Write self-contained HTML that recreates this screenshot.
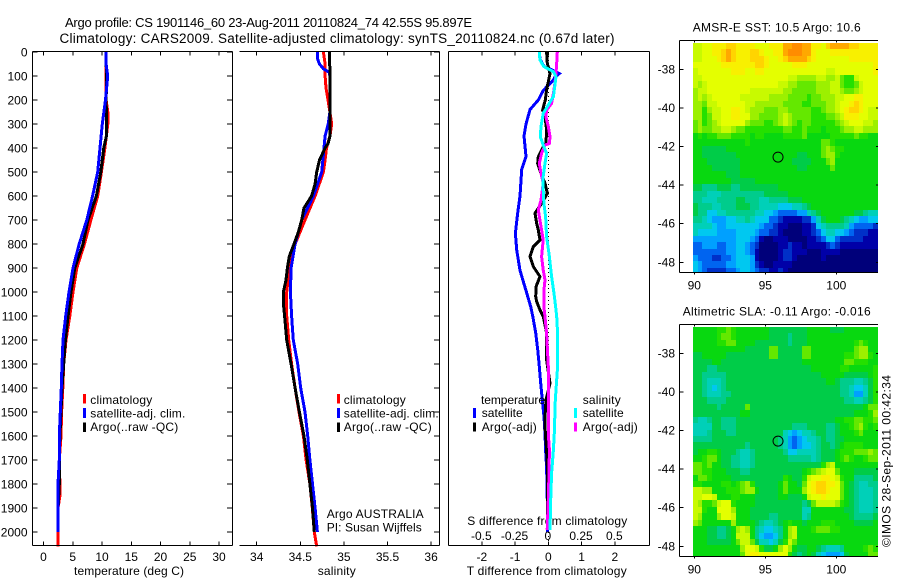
<!DOCTYPE html>
<html lang="en">
<head>
<meta charset="utf-8">
<title>Argo profile chart</title>
<style>
html,body{margin:0;padding:0;background:#fff;}
#chart{display:block;width:900px;height:580px;}
text{font-family:"Liberation Sans",sans-serif;font-size:12px;fill:#000;}
</style>
</head>
<body>
<svg id="chart" xmlns="http://www.w3.org/2000/svg" width="900" height="580" viewBox="0 0 900 580">
<defs>
<clipPath id="clip-map-sst"><rect x="679" y="41" width="199" height="232"/></clipPath>
<clipPath id="clip-map-sla"><rect x="679" y="325" width="199" height="232"/></clipPath>
</defs>
<text x="65" y="27" textLength="407" lengthAdjust="spacing" style="font-size:13px">Argo profile: CS 1901146_60 23-Aug-2011 20110824_74 42.55S 95.897E</text>
<text x="59.5" y="43" textLength="555" lengthAdjust="spacing" style="font-size:13.5px">Climatology: CARS2009. Satellite-adjusted climatology: synTS_20110824.nc (0.67d later)</text>
<text x="692.7" y="31.5" textLength="168" lengthAdjust="spacing">AMSR-E SST: 10.5 Argo: 10.6</text>
<text x="682.7" y="315.5" textLength="188" lengthAdjust="spacing">Altimetric SLA: -0.11 Argo: -0.016</text>
<text x="74" y="575" textLength="110" lengthAdjust="spacing">temperature (deg C)</text>
<text x="317.7" y="575" textLength="38" lengthAdjust="spacing">salinity</text>
<text x="466.7" y="575" textLength="160" lengthAdjust="spacing">T difference from climatology</text>
<text x="467.3" y="525" textLength="160" lengthAdjust="spacing">S difference from climatology</text>
<text x="326.7" y="518" textLength="97" lengthAdjust="spacing">Argo AUSTRALIA</text>
<text x="326.7" y="531.5" textLength="95" lengthAdjust="spacing">PI: Susan Wijffels</text>
<text transform="translate(890.5,547) rotate(-90)" x="0" y="0" textLength="172" lengthAdjust="spacing">©IMOS 28-Sep-2011 00:42:34</text>

<g>
<rect x="83" y="394" width="3" height="9.5" fill="#ff0000"/>
<text x="90.3" y="404" textLength="62" lengthAdjust="spacing">climatology</text>
<rect x="83" y="408" width="3" height="10" fill="#0000ff"/>
<text x="90.3" y="417.3" textLength="95" lengthAdjust="spacing">satellite-adj. clim.</text>
<rect x="83" y="422.5" width="3" height="9.5" fill="#000000"/>
<text x="90.3" y="431" textLength="88" lengthAdjust="spacing">Argo(..raw -QC)</text>
</g>
<g>
<rect x="337" y="394" width="3" height="9.5" fill="#ff0000"/>
<text x="343.7" y="404" textLength="62" lengthAdjust="spacing">climatology</text>
<rect x="337" y="408" width="3" height="10" fill="#0000ff"/>
<text x="343.7" y="417.3" textLength="95" lengthAdjust="spacing">satellite-adj. clim.</text>
<rect x="337" y="422.5" width="3" height="9.5" fill="#000000"/>
<text x="343.7" y="431" textLength="88" lengthAdjust="spacing">Argo(..raw -QC)</text>
</g>

<g id="marks"></g>
<g id="overlay-legend">
<text x="481" y="404" textLength="64" lengthAdjust="spacing">temperature</text>
<rect x="473" y="408" width="3" height="10" fill="#0000ff"/>
<text x="481.7" y="417" textLength="41" lengthAdjust="spacing">satellite</text>
<rect x="473" y="422.5" width="3" height="9" fill="#000000"/>
<text x="481.7" y="431" textLength="55" lengthAdjust="spacing">Argo(-adj)</text>
<text x="582.7" y="404" textLength="38" lengthAdjust="spacing">salinity</text>
<rect x="574" y="408" width="3" height="10" fill="#00ffff"/>
<text x="582.7" y="417" textLength="41" lengthAdjust="spacing">satellite</text>
<rect x="574" y="422.5" width="3" height="9" fill="#ff00ff"/>
<text x="582.7" y="431" textLength="55" lengthAdjust="spacing">Argo(-adj)</text>
</g>
</svg>

<script>
// ---- axis tick labels ----
const depthTicks = [0,100,200,300,400,500,600,700,800,900,1000,1100,1200,1300,1400,1500,1600,1700,1800,1900,2000];
const temperatureTicks = [0,5,10,15,20,25,30];
const salinityTicks = [34,34.5,35,35.5,36];
const tDifferenceTicks = [-2,-1,0,1,2];
const sDifferenceTicks = [-0.5,-0.25,0,0.25,0.5];
const longitudeTicks = [90,95,100];
const latitudeTicks = [-38,-40,-42,-44,-46,-48];

// ---- profile location ----
const profileLon = [95.897];
const profileLat = [-42.55];

// ---- temperature panel ----
const climTempDepth = [0,100,200,250,300,350,400,500,600,700,800,900,1000,1100,1200,1300,1400,1500,1600,1700,1800,1850,1900,2000,2060];
const climTemp = [10.7,10.7,10.7,11,11,10.75,10.5,9.9,9.26,8.1,7,5.7,5.05,4.5,3.85,3.45,3.3,3.1,3,2.7,2.8,2.8,2.48,2.48,2.48];
const argoTempDepth = [0,50,100,200,300,350,400,500,600,700,800,900,1000,1100,1200,1300,1400,1500,1600,1700,1800,1900,2000];
const argoTemp = [10.7,10.7,10.8,10.7,10.8,10.75,10.3,9.8,9.05,7.6,6.75,5.35,4.7,4.2,3.75,3.45,3.16,3,2.8,2.7,2.7,2.5,2.48];
const satTempDepth = [0,50,100,200,300,400,500,600,700,800,900,1000,1100,1200,1300,1400,1500,1600,1700,1800,1900,2000];
const satTemp = [10.7,10.7,10.97,10.6,10.05,9.66,9.26,8.4,7.4,6.1,5.05,4.36,3.8,3.33,3.16,3.05,2.87,2.7,2.7,2.48,2.48,2.48];

// ---- salinity panel ----
const climSalDepth = [0,50,100,150,200,250,300,350,400,450,500,600,700,800,900,1000,1100,1200,1300,1400,1500,1600,1700,1800,1900,2000,2060];
const climSal = [34.765,34.784,34.784,34.795,34.818,34.84,34.86,34.84,34.8,34.784,34.765,34.67,34.554,34.44,34.375,34.344,34.344,34.367,34.4,34.44,34.485,34.535,34.566,34.61,34.638,34.66,34.688];
const argoSalDepth = [0,50,80,100,200,300,350,380,400,450,500,550,600,650,700,750,800,850,900,950,1000,1050,1100,1200,1300,1400,1500,1600,1700,1800,1900,2000];
const argoSal = [34.837,34.837,34.84,34.84,34.84,34.84,34.84,34.82,34.784,34.72,34.688,34.67,34.63,34.543,34.516,34.478,34.428,34.375,34.352,34.336,34.306,34.306,34.32,34.344,34.394,34.44,34.49,34.543,34.58,34.61,34.64,34.66];
const satSalDepth = [0,30,50,70,85,100,200,250,300,350,400,500,600,700,800,900,1000,1100,1200,1300,1400,1500,1600,1700,1800,1900,2000];
const satSal = [34.7,34.7,34.72,34.765,34.833,34.84,34.84,34.84,34.82,34.784,34.772,34.745,34.65,34.516,34.44,34.394,34.386,34.4,34.42,34.47,34.505,34.554,34.585,34.61,34.64,34.67,34.696];

// ---- difference panel ----
const tSatDiffDepth = [0,30,60,80,90,105,117,160,200,240,300,350,435,490,600,670,755,825,910,980,1061,1100,1170,1240,1310,1380,1450,1520,1590,1660,1730,1870,2000];
const tSatDiff = [-0.27,-0.25,-0.13,0.2,0.33,0.2,0.15,-0.15,-0.3,-0.55,-0.67,-0.73,-0.67,-0.8,-0.85,-0.92,-0.99,-0.95,-0.85,-0.7,-0.53,-0.47,-0.38,-0.32,-0.27,-0.23,-0.18,-0.13,-0.1,-0.08,-0.05,-0.03,-0.03];
const tArgoDiffDepth = [0,47,89,124,158,200,242,269,325,381,394,436,464,506,547,575,589,631,672,714,742,783,811,853,894,936,978,1019,1040,1075,1103,1172,1283,1380,1450,1520,1589,1658,1728,1866,1991];
const tArgoDiff = [-0.05,-0.03,0.05,0,-0.05,-0.09,-0.17,-0.1,-0.05,-0.07,-0.15,-0.3,-0.32,-0.22,-0.1,-0.05,-0.03,-0.2,-0.4,-0.35,-0.3,-0.25,-0.45,-0.55,-0.45,-0.25,-0.37,-0.38,-0.35,-0.25,-0.15,-0.05,-0.05,0.05,-0.07,-0.1,-0.09,-0.05,-0.03,-0.03,-0.03];
const sArgoDiffDepth = [0,47,89,131,172,214,242,269,311,353,381,388,422,464,506,547,617,658,700,742,783,853,908,950,992,1061,1103,1172,1311,1394,1450,1589,1658,1755,1866,1991];
const sArgoDiff = [0.068,0.063,0.058,0.05,0.038,0.025,-0.013,-0.018,0,0.013,0.008,-0.025,-0.05,-0.068,-0.055,-0.038,-0.055,-0.075,-0.063,-0.05,-0.038,-0.05,-0.038,-0.025,-0.033,-0.033,-0.025,-0.013,0,0,0,0,0.008,0.005,0,-0.008];
const sSatDiffDepth = [0,33,61,82,103,138,186,221,256,311,353,388,422,464,519,575,631,686,769,853,936,1006,1061,1103,1172,1311,1450,1589,1658,1755,1866,1991];
const sSatDiff = [-0.068,-0.063,-0.033,0.038,0.058,0.05,0.038,0,-0.038,-0.055,-0.06,-0.038,-0.013,-0.025,-0.038,-0.038,-0.033,-0.02,-0.013,0.008,0.025,0.043,0.055,0.063,0.07,0.07,0.053,0.045,0.038,0.025,0.018,0.013];

// ---- SST map, colour-level values by row (north to south) ----
const sstGrid = [
[13,13,14,14,15,15,15,16,16,15,15,15,15,14,14,14,15,15,15,17,17,18,18,17,17,15,15,14,16,17,17,17,17,16,16,15,15,15,15],
[13,13,14,14,15,15,16,17,16,15,15,15,16,16,15,14,14,15,15,17,18,18,18,17,17,15,14,14,14,15,15,15,15,15,15,15,15,15,15],
[13,13,14,14,14,15,16,17,16,15,15,15,16,16,16,15,14,14,15,16,17,17,17,17,16,15,14,14,14,14,14,14,14,15,15,15,15,15,15],
[14,14,14,14,14,14,15,15,15,15,15,15,15,16,16,15,14,14,14,14,14,15,15,15,14,14,14,14,14,14,14,14,14,14,14,14,14,14,15],
[13,14,14,14,14,14,14,14,15,15,15,14,14,15,15,14,14,14,14,14,14,14,14,14,14,14,14,14,13,13,14,14,14,14,14,14,14,14,15],
[13,13,14,14,14,14,14,14,14,14,14,14,14,14,14,14,14,14,14,14,13,13,12,12,12,12,13,13,12,12,13,11,10,10,13,14,14,14,14],
[13,12,13,14,14,14,14,14,14,14,14,14,14,14,14,14,14,14,13,13,12,12,11,11,11,11,12,12,12,13,13,11,10,10,11,13,14,14,14],
[12,13,13,14,14,14,14,14,14,14,14,14,13,13,13,13,13,13,13,12,12,11,11,11,11,11,12,12,12,13,13,12,11,11,12,13,14,14,14],
[12,13,12,13,14,14,14,14,14,14,13,13,13,13,13,13,12,12,12,12,11,11,11,11,10,11,11,12,12,12,13,13,14,14,15,15,14,14,14],
[12,12,11,13,13,14,14,14,14,14,14,13,13,12,12,12,12,12,12,11,11,11,11,10,10,11,11,11,12,12,13,14,14,15,16,15,14,14,14],
[12,12,10,12,13,13,14,14,15,15,14,13,12,12,12,11,11,11,12,12,11,11,11,11,11,10,10,11,12,12,13,14,15,16,16,15,14,13,13],
[12,12,10,11,13,13,14,14,15,15,14,14,12,12,11,11,11,11,12,13,12,11,11,11,11,10,10,10,11,11,12,13,15,15,15,14,14,13,13],
[11,12,10,11,12,13,14,14,14,14,14,12,11,11,11,10,10,11,12,13,12,11,10,11,11,10,10,10,10,10,11,12,13,14,14,14,13,13,12],
[11,12,11,11,12,12,13,13,12,11,11,10,10,10,10,10,10,10,10,11,11,10,10,11,10,10,10,9,10,10,10,11,12,12,13,13,12,12,12],
[9,10,9,10,10,11,11,11,10,10,10,10,9,10,10,9,9,9,9,10,10,10,10,11,9,9,9,9,9,10,10,10,10,10,11,10,10,9,9],
[9,9,9,9,9,9,9,9,9,9,9,10,9,9,9,9,9,9,9,9,9,9,9,9,9,9,9,11,11,10,9,9,9,9,9,9,9,9,9],
[9,9,8,8,8,8,8,9,9,9,9,9,9,9,9,9,9,9,9,9,9,9,9,9,9,9,9,11,12,11,10,10,9,9,9,9,9,9,9],
[9,9,8,8,8,8,8,8,8,9,9,9,9,9,9,9,9,9,9,9,9,9,8,8,9,9,9,11,12,12,10,9,9,9,9,9,9,9,9],
[9,9,9,8,8,8,8,8,8,8,9,9,9,9,9,9,9,9,9,9,9,8,8,8,8,9,9,9,11,12,9,9,9,9,9,9,9,9,9],
[9,9,9,9,8,8,8,8,8,8,9,9,9,9,9,9,9,9,9,9,9,9,8,8,9,9,9,9,9,11,9,9,9,9,9,9,9,9,9],
[9,9,9,9,9,9,9,8,8,8,9,9,9,9,9,9,9,9,9,9,9,9,9,9,9,9,9,9,9,9,9,9,9,9,9,9,9,9,9],
[9,9,9,9,9,9,9,9,8,8,8,8,8,9,9,9,9,9,9,9,9,9,9,9,9,9,9,9,9,9,9,9,9,9,9,9,9,9,9],
[8,8,7,7,7,8,8,8,7,7,8,8,8,8,8,8,8,8,9,9,9,9,9,9,9,9,9,9,9,9,9,9,9,9,9,9,9,9,9],
[7,7,7,6,6,6,7,7,7,7,7,7,7,7,7,8,8,8,8,8,9,9,9,9,9,9,9,9,9,9,9,9,9,9,9,9,9,9,9],
[7,7,6,6,6,7,7,7,7,8,8,7,7,7,6,6,7,7,7,7,8,8,8,9,9,9,9,9,9,9,9,9,9,9,9,9,9,9,9],
[8,7,7,7,6,6,7,7,7,8,8,8,7,7,6,6,6,6,5,5,5,6,6,7,8,9,9,9,9,9,9,9,9,9,9,9,9,9,9],
[8,7,7,5,5,6,6,7,7,7,7,7,7,6,6,5,5,4,3,3,3,3,4,4,6,7,8,9,9,9,9,9,9,9,8,8,7,6,6],
[7,7,6,5,4,4,4,5,5,6,6,7,6,5,5,5,3,3,2,1,1,1,1,2,2,4,6,8,9,9,9,8,7,6,5,4,4,5,5],
[6,6,6,6,5,4,4,5,5,5,5,5,5,5,4,3,3,2,1,1,0,0,0,1,1,2,5,6,7,7,7,7,6,4,3,3,3,3,2],
[6,5,5,5,5,4,4,4,4,5,5,5,5,4,3,3,2,2,1,0,0,0,0,1,1,2,3,5,6,6,5,5,4,3,2,2,2,1,1],
[4,4,4,4,4,4,4,4,4,5,5,5,4,3,1,0,0,1,1,1,0,0,0,0,1,1,2,3,5,5,3,2,2,2,2,2,1,1,1],
[3,3,4,4,4,3,3,4,4,5,5,4,3,2,0,0,0,0,1,1,2,1,1,0,1,1,1,1,2,3,2,1,1,1,1,1,1,1,1],
[3,3,3,3,3,3,3,4,4,5,5,4,3,1,0,0,0,0,1,2,2,1,1,1,0,0,0,1,1,1,1,0,0,0,0,0,0,0,0],
[4,3,3,3,2,2,3,3,4,5,5,5,4,1,0,0,0,0,1,2,2,1,0,0,0,0,0,1,0,0,0,0,0,0,0,0,0,0,0],
[5,4,3,3,3,3,3,4,4,5,5,5,4,2,1,0,0,1,1,1,1,0,0,0,0,0,0,0,0,0,0,0,0,0,0,0,0,0,0],
[5,4,3,2,2,2,2,3,3,4,5,5,4,3,2,2,1,1,2,1,0,0,0,0,0,0,0,0,0,0,0,0,0,0,0,0,0,0,0]
];

// ---- SLA map, colour-level values by row (north to south) ----
const slaGrid = [
[9,9,9,9,9,10,10,11,10,9,9,9,9,9,9,9,8,8,8,8,8,8,8,8,9,9,9,9,9,8,8,8,9,9,9,9,9,9,9],
[9,9,9,9,9,10,11,11,10,9,9,9,9,9,9,9,8,8,8,8,7,8,8,8,9,9,9,9,9,9,9,9,9,9,9,9,9,9,9],
[9,9,9,9,9,10,10,11,11,9,9,9,9,8,8,8,8,8,8,8,7,8,8,8,9,9,9,9,9,9,9,9,9,9,10,11,10,9,9],
[9,9,9,9,9,9,9,9,9,9,9,8,8,8,8,8,11,11,8,8,8,8,8,11,11,9,9,9,9,9,9,9,9,9,11,12,12,9,9],
[8,8,9,9,9,9,9,8,8,8,8,8,8,8,8,8,11,11,8,8,8,8,8,11,11,9,9,9,9,9,9,9,10,10,11,12,12,10,9],
[8,8,8,8,9,9,8,8,8,8,8,8,8,8,8,8,8,8,8,8,8,8,8,9,9,9,9,9,9,9,9,9,11,11,10,10,10,9,9],
[8,8,8,7,7,8,8,8,8,8,8,8,8,8,8,8,8,8,8,8,8,8,8,8,8,9,9,9,9,9,9,10,10,9,9,9,9,9,10],
[8,8,7,7,7,7,7,8,8,8,8,8,8,8,8,8,8,8,8,8,8,8,8,8,8,8,8,9,9,9,9,9,8,8,8,8,8,9,10],
[8,8,7,6,6,6,7,8,8,8,8,8,8,8,8,8,8,8,8,8,8,8,8,8,8,8,8,8,9,9,8,7,7,7,6,6,7,8,10],
[8,8,7,6,5,6,7,8,8,8,8,8,8,8,8,8,8,8,8,8,8,8,8,8,8,8,8,8,8,8,8,7,7,6,5,5,6,8,10],
[8,8,7,6,6,6,7,7,8,8,8,8,8,8,8,8,8,8,8,8,8,8,8,8,8,8,8,8,8,8,8,7,7,6,4,4,6,8,10],
[8,8,8,7,7,7,7,8,8,8,8,8,8,8,8,8,8,8,8,8,8,8,8,8,8,8,8,8,8,8,8,8,7,7,6,6,7,8,10],
[8,8,8,8,8,7,8,8,8,8,8,11,8,8,8,8,8,8,8,8,8,8,8,8,8,8,8,8,8,8,8,8,8,8,8,8,9,11,11],
[8,8,8,8,8,8,8,8,8,8,9,9,8,8,8,8,8,8,8,8,8,8,8,8,8,8,8,8,8,8,8,8,8,8,9,9,9,10,12],
[7,6,6,7,8,8,7,7,7,8,8,8,8,8,8,8,8,8,8,8,8,8,8,8,8,8,8,8,8,8,9,9,10,10,11,11,10,10,11],
[6,6,6,6,8,8,7,7,7,8,8,8,8,8,8,8,8,8,8,8,8,7,7,7,8,8,8,8,7,7,8,9,9,10,11,12,10,9,10],
[6,6,6,7,8,8,8,7,7,8,8,8,8,8,8,8,8,8,8,6,5,4,5,6,6,7,8,8,7,7,8,9,9,9,10,11,9,9,9],
[7,7,7,7,8,8,8,8,8,8,8,8,8,8,8,8,8,8,7,6,4,3,4,5,6,6,7,8,7,7,8,8,9,9,9,9,9,9,9],
[8,8,8,8,8,8,8,8,8,8,8,7,8,8,8,8,8,8,7,6,4,3,4,5,5,6,7,8,8,7,8,9,10,10,10,10,9,9,9],
[8,9,9,10,10,9,8,8,8,7,6,6,7,8,8,8,8,8,8,7,5,5,6,6,6,6,7,8,8,8,9,10,10,10,11,11,11,12,11],
[9,9,10,11,11,9,8,8,7,7,6,6,7,8,8,8,8,8,8,8,7,7,7,7,7,6,7,8,8,8,9,10,11,10,9,9,10,11,11],
[11,11,10,11,9,9,8,8,7,7,6,6,7,8,8,8,8,8,8,8,8,8,8,8,8,8,8,10,12,13,9,9,9,9,9,9,9,9,9],
[11,11,10,10,9,9,9,8,8,8,7,7,8,8,8,8,8,8,8,8,8,8,8,9,10,11,12,13,14,14,11,9,9,9,8,8,8,8,8],
[9,11,11,10,9,9,9,9,8,8,8,8,8,8,8,8,8,8,8,10,9,8,8,10,13,14,14,15,15,14,13,10,9,9,7,7,7,7,8],
[10,10,9,9,9,9,10,10,9,10,11,12,10,8,8,8,8,8,9,11,9,9,8,11,14,15,16,16,15,15,14,11,9,8,7,6,6,7,7],
[13,13,12,12,9,9,9,10,10,10,11,12,12,9,8,8,8,8,9,11,9,9,9,12,14,15,16,16,15,14,14,11,9,8,7,6,6,6,7],
[13,13,14,14,13,9,9,9,10,10,9,9,9,8,8,8,8,8,9,9,8,8,8,9,13,14,14,15,14,14,14,11,9,8,7,6,6,6,7],
[13,12,10,10,11,13,14,14,10,9,9,9,9,8,8,8,8,8,8,8,8,8,8,7,8,11,13,13,13,13,12,10,9,8,7,6,6,6,7],
[13,13,10,9,9,14,14,14,12,9,9,9,8,8,8,8,8,8,8,8,8,8,8,6,6,9,9,9,9,9,9,9,8,8,7,6,6,6,7],
[13,12,9,9,9,12,14,14,13,9,9,9,8,8,8,8,7,7,8,8,8,8,8,6,7,9,9,9,9,9,9,9,9,8,7,7,7,7,8],
[12,11,9,9,9,9,9,9,12,9,9,9,9,8,7,6,6,7,8,9,10,9,9,8,9,9,9,10,10,10,9,9,9,9,8,8,8,8,9],
[9,9,9,8,8,7,7,8,9,12,13,12,9,7,6,5,5,6,7,9,12,13,9,9,9,10,11,11,11,10,10,9,9,9,9,9,9,9,9],
[9,9,9,8,8,7,7,8,9,13,13,13,9,7,5,4,4,5,7,9,12,13,9,9,9,9,9,9,9,9,9,9,9,9,9,9,9,9,9],
[9,9,9,8,8,8,8,8,9,11,13,13,11,8,6,6,5,6,8,10,13,11,9,9,9,9,9,9,9,9,9,9,9,9,9,9,9,9,9],
[9,9,9,9,9,9,9,9,9,9,12,14,14,13,10,8,8,9,12,14,12,9,8,8,9,9,8,7,6,6,6,7,9,9,9,9,10,11,10],
[9,9,9,9,9,9,9,9,9,9,11,14,15,15,14,14,14,14,14,14,10,8,7,8,9,8,6,5,4,4,4,5,8,9,9,9,9,11,11]
];

const colorLevels = ['#00007a','#0000a8','#0030c8','#0064f0','#00a0ff','#00c8f0','#00d0b8','#00cc8c','#00cc48','#08d810','#24e000','#64e800','#9cf000','#c8fa00','#e4ff00','#f8f000','#ffd400','#ffa800','#ff8c00'];

// ---- axis functions ----
const NS = 'http://www.w3.org/2000/svg';
const marks = document.getElementById('marks');
const depthY = d => 52 + d * 0.2400;
const tempX = t => 43.5 + t * 5.85;
const salX = s => 256.7 + (s - 34) * 87.2;
const tDiffX = t => 548.3 + t * 33.25;
const sDiffX = s => 548.3 + s * 133;
const lonX = lon => 694.3 + (lon - 90) * 14.2;
const latY = (lat, top) => top + 27.3 + (-38 - lat) * 19.3;

function node(tag, attrs) {
  const el = document.createElementNS(NS, tag);
  for (const k in attrs) el.setAttribute(k, attrs[k]);
  return el;
}
function segment(x1, y1, x2, y2) {
  return node('line', {x1: x1, y1: y1, x2: x2, y2: y2, stroke: '#000', 'stroke-width': 1, 'shape-rendering': 'crispEdges'});
}
function label(x, y, str, anchor) {
  const el = node('text', {x: x, y: y, 'text-anchor': anchor});
  el.textContent = str;
  return el;
}
function profile(depths, values, xFn, color) {
  const pts = depths.map((d, i) => xFn(values[i]).toFixed(1) + ',' + depthY(d).toFixed(1)).join(' ');
  return node('polyline', {points: pts, fill: 'none', stroke: color, 'stroke-width': 3, 'stroke-linejoin': 'miter', 'shape-rendering': 'crispEdges'});
}

// ---- heatmaps ----
function drawMap(grid, top, clipId, mapName) {
  const group = node('g', {'clip-path': 'url(#' + clipId + ')'});
  
  
  grid.forEach((row, r) => {
    row.forEach((v, c) => {
      const x0 = Math.round(lonX(89.91 + c / 3));
      const x1 = Math.round(lonX(89.91 + (c + 1) / 3));
      const y0 = Math.round(latY(-36.62 - r / 3, top));
      const y1 = Math.round(latY(-36.62 - (r + 1) / 3, top));
      const cell = node('rect', {x: x0, y: y0, width: x1 - x0, height: y1 - y0, fill: colorLevels[v], 'shape-rendering': 'crispEdges'});
      
      
      group.appendChild(cell);
    });
  });
  marks.appendChild(group);
}
drawMap(sstGrid, 42, 'clip-map-sst', 'sst-heatmap');
drawMap(slaGrid, 326, 'clip-map-sla', 'sla-heatmap');

function drawMapAxes(top, bottom, boxName) {
  const xl = 679.5, xr = 878;
  const borders = [segment(xl, top, xl, bottom), segment(xl, top, xr, top), segment(xl, bottom, xr, bottom)];
  borders.forEach(b => {
    
    
    marks.appendChild(b);
  });
  longitudeTicks.forEach(lon => {
    const tick = segment(lonX(lon), top, lonX(lon), top + 2);
    
    
    marks.appendChild(tick);
    const tick2 = segment(lonX(lon), bottom, lonX(lon), bottom + 2);
    
    
    marks.appendChild(tick2);
    const t = label(lonX(lon), bottom + 17, String(lon), 'middle');
    
    
    marks.appendChild(t);
  });
  latitudeTicks.forEach(lat => {
    const y = latY(lat, top + 1.5);
    const tick = segment(xl, y, xl + 4, y);
    
    
    marks.appendChild(tick);
    const tickR = segment(xr - 2, y, xr, y);
    
    
    marks.appendChild(tickR);
    const t = label(675, y + 4, String(lat), 'end');
    
    
    marks.appendChild(t);
  });
  const spot = node('circle', {cx: lonX(profileLon[0]), cy: latY(profileLat[0], top + 1.5), r: 5, fill: 'none', stroke: '#000', 'stroke-width': 1});
  
  
  marks.appendChild(spot);
}
drawMapAxes(40.5, 272.5, 'sst-map');
drawMapAxes(324.5, 556.5, 'sla-map');

// ---- zero reference line ----
const zeroLine = node('line', {x1: tDiffX(0), y1: 52, x2: tDiffX(0), y2: 545, stroke: '#000', 'stroke-width': 1, 'stroke-dasharray': '1 3', 'shape-rendering': 'crispEdges'});


marks.appendChild(zeroLine);

// ---- profile lines ----
const lineClim = profile(climTempDepth, climTemp, tempX, '#ff0000');


marks.appendChild(lineClim);
const lineArgoT = profile(argoTempDepth, argoTemp, tempX, '#000000');


marks.appendChild(lineArgoT);
const lineSatT = profile(satTempDepth, satTemp, tempX, '#0000ff');


marks.appendChild(lineSatT);

const lineClimS = profile(climSalDepth, climSal, salX, '#ff0000');


marks.appendChild(lineClimS);
const lineSatS = profile(satSalDepth, satSal, salX, '#0000ff');


marks.appendChild(lineSatS);
const lineArgoS = profile(argoSalDepth, argoSal, salX, '#000000');


marks.appendChild(lineArgoS);

const lineDiffTSat = profile(tSatDiffDepth, tSatDiff, tDiffX, '#0000ff');


marks.appendChild(lineDiffTSat);
const lineDiffTArgo = profile(tArgoDiffDepth, tArgoDiff, tDiffX, '#000000');


marks.appendChild(lineDiffTArgo);
const lineDiffSArgo = profile(sArgoDiffDepth, sArgoDiff, sDiffX, '#ff00ff');


marks.appendChild(lineDiffSArgo);
const lineDiffSSat = profile(sSatDiffDepth, sSatDiff, sDiffX, '#00ffff');


marks.appendChild(lineDiffSSat);

// ---- panel axes ----
const plotTop = 51.5, plotBottom = 545.5;
function addAxisLine(x1, y1, x2, y2, name) {
  const l = segment(x1, y1, x2, y2);
  
  
  marks.appendChild(l);
}
addAxisLine(32.5, plotTop, 232.5, plotTop, 'temperature-panel-top-axis');
addAxisLine(32.5, plotBottom, 232.5, plotBottom, 'temperature-panel-bottom-axis');
addAxisLine(32.5, plotTop, 32.5, plotBottom, 'temperature-panel-left-axis');
addAxisLine(232.5, plotTop, 232.5, plotBottom, 'temperature-panel-right-axis');
addAxisLine(239.5, plotTop, 439.5, plotTop, 'salinity-panel-top-axis');
addAxisLine(239.5, plotBottom, 439.5, plotBottom, 'salinity-panel-bottom-axis');
addAxisLine(439.5, plotTop, 439.5, plotBottom, 'salinity-panel-right-axis');
addAxisLine(448.5, plotTop, 649.5, plotTop, 'difference-panel-top-axis');
addAxisLine(448.5, plotBottom, 649.5, plotBottom, 'difference-panel-bottom-axis');
addAxisLine(448.5, plotTop, 448.5, plotBottom, 'difference-panel-left-axis');
addAxisLine(649.5, plotTop, 649.5, plotBottom, 'difference-panel-right-axis');

depthTicks.forEach(d => {
  const y = depthY(d);
  const tl = segment(32.5, y, 37.5, y);
  
  
  marks.appendChild(tl);
  const tr = segment(227, y, 232.5, y);
  
  
  marks.appendChild(tr);
  const ts = segment(434, y, 439.5, y);
  
  
  marks.appendChild(ts);
  const t = label(27.5, y + 4.3, String(d), 'end');
  
  
  marks.appendChild(t);
});

function addBottomTicks(values, xFn, prefix, tickBothSides, labelY) {
  values.forEach(v => {
    const x = xFn(v);
    const top = segment(x, plotTop, x, plotTop + 4);
    
    
    marks.appendChild(top);
    const bot = segment(x, plotBottom - 4, x, plotBottom);
    
    
    marks.appendChild(bot);
    const t = label(x, labelY, String(v), 'middle');
    
    
    marks.appendChild(t);
  });
}
addBottomTicks(temperatureTicks, tempX, 'temperature', true, 561);
addBottomTicks(salinityTicks, salX, 'salinity', true, 561);
addBottomTicks(tDifferenceTicks, tDiffX, 't-difference', true, 561);
sDifferenceTicks.forEach(v => {
  const t = label(sDiffX(v) - 0.5, 540, String(v), 'middle');
  
  
  marks.appendChild(t);
});
</script>
</body>
</html>
